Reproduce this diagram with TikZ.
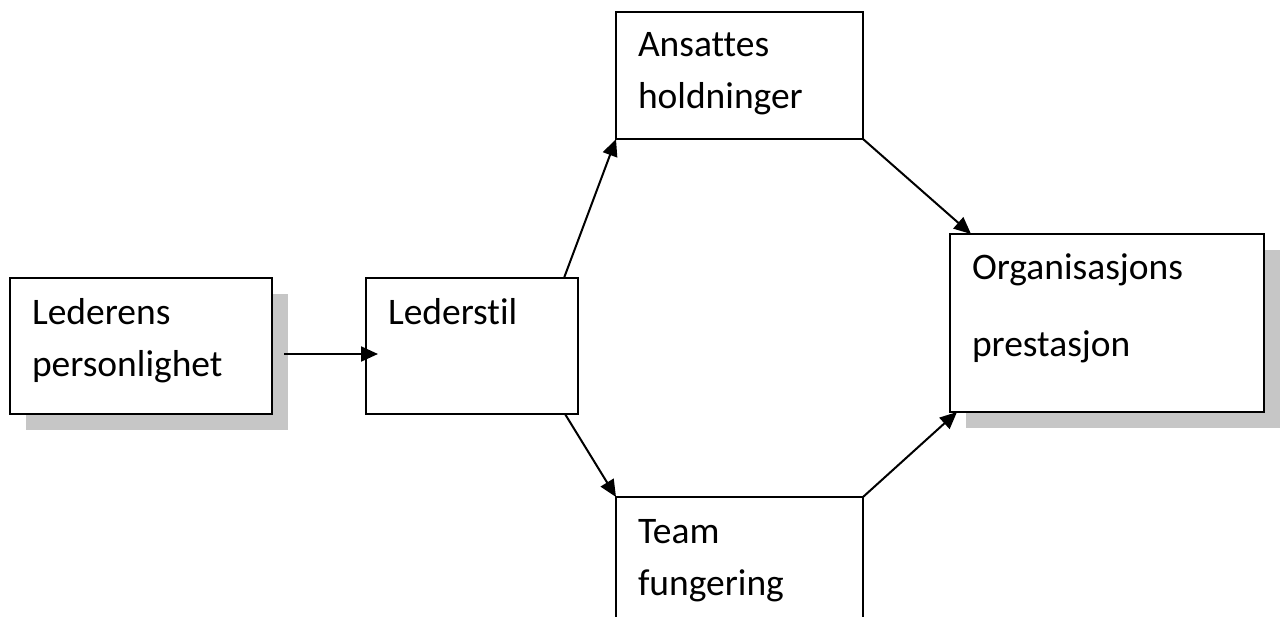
\documentclass[tikz,border=0pt]{standalone}
\usepackage{fontspec}
\setmainfont{Carlito}[Ligatures=CommonOff]
\usetikzlibrary{arrows.meta,shadows}

\begin{document}
\begin{tikzpicture}[x=1pt,y=-1pt,
plainbox/.style={rectangle, draw=black, fill=white, line width=1.9pt, outer sep=0pt, anchor=north west, align=left, inner xsep=22pt, inner ysep=0pt, font=\fontsize{37.5pt}{52pt}\selectfont},
shadowbox/.style={plainbox, drop shadow={shadow xshift=16pt, shadow yshift=-16pt, fill=gray!45, opacity=1}},
linkarrow/.style={line width=2pt, -{Triangle[length=17pt,width=15pt]}},
]
\useasboundingbox (0,0) rectangle (1282,617);

%Nodes
\node[shadowbox, text width=218pt, text height=47pt, text depth=89pt] (pers) at (10,278) {Lederens\\personlighet};

\node[plainbox, text width=168pt, text height=47pt, text depth=89pt] (stil) at (366,278) {Lederstil};

\node[plainbox, text width=203pt, text height=45pt, text depth=82pt] (ans) at (616,12) {Ansattes\\holdninger};

\node[plainbox, text width=203pt, text height=46pt, text depth=84pt] (team) at (616,497) {Team\\fungering};

\node[shadowbox, text width=270pt, text height=46pt, text depth=132pt, font=\fontsize{37.5pt}{77pt}\selectfont] (org) at (950,234) {Organisasjons\\prestasjon};

%Lines
\draw[linkarrow] ([shift={(12,8)}]pers.east) -- ([shift={(12,8)}]stil.west);
\draw[linkarrow] ([xshift=-14pt]stil.north east) -- (ans.south west);
\draw[linkarrow] ([xshift=-13pt]stil.south east) -- (team.north west);
\draw[linkarrow] (ans.south east) -- ([xshift=21pt]org.north west);
\draw[linkarrow] (team.north east) -- ([xshift=7pt]org.south west);

\end{tikzpicture}
\end{document}
